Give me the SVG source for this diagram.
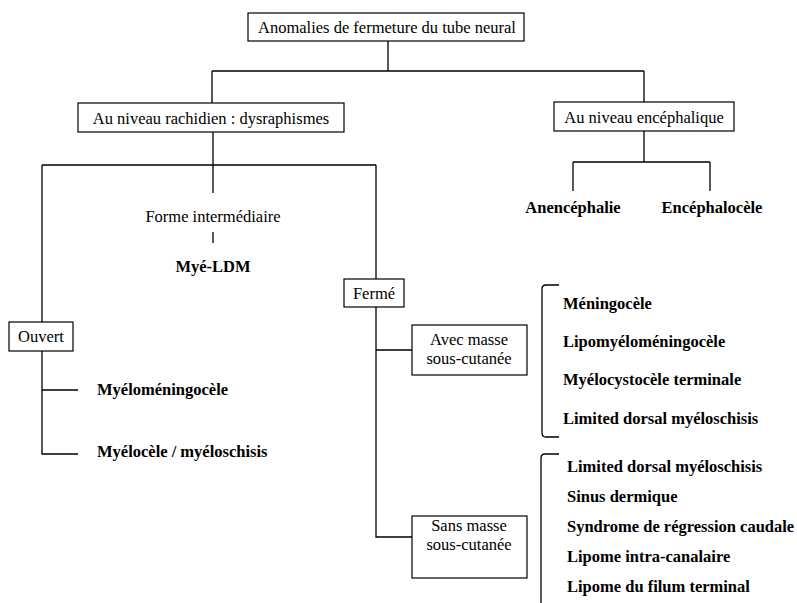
<svg xmlns="http://www.w3.org/2000/svg" width="797" height="603" viewBox="0 0 797 603">
<style>
.box{fill:#fff;stroke:#000;stroke-width:1.2}
.ln{fill:none;stroke:#000;stroke-width:1.3}
text{font-family:"Liberation Serif","Times New Roman",serif;font-size:16.5px;fill:#000}
.b{font-weight:bold}
.c{text-anchor:middle}
</style>
<rect width="797" height="603" fill="#fff"/>
<g id="connectors">
<path class="ln" d="M388 41V71M212 71H644M212 71V103M644 71V102"/>
<path class="ln" d="M213 132V193M42 165H376M42 165V322M376 165V279"/>
<path class="ln" d="M213 232V243"/>
<path class="ln" d="M42 351V454H78M42 390H78"/>
<path class="ln" d="M376 307V537H412M376 350H412"/>
<path class="ln" d="M644 131V162M573 162H710M573 162V191M710 162V191"/>
<path class="ln" d="M559 285H546Q542 285 542 289V433Q542 437 546 437H559"/>
<path class="ln" d="M559 454H545Q541 454 541 458V603"/>
</g>
<g id="n-root"><rect class="box" x="248" y="13" width="276" height="28"/><text class="c" x="387" y="33">Anomalies de fermeture du tube neural</text></g>
<g id="n-rachidien"><rect class="box" x="78" y="103" width="266" height="29"/><text class="c" x="211" y="124">Au niveau rachidien : dysraphismes</text></g>
<g id="n-encephalique"><rect class="box" x="554" y="102" width="180" height="29"/><text class="c" x="644" y="123">Au niveau encéphalique</text></g>
<g id="n-anencephalie"><text class="c b" x="573" y="213">Anencéphalie</text></g>
<g id="n-encephalocele"><text class="c b" x="712" y="213">Encéphalocèle</text></g>
<g id="n-forme"><text class="c" x="213" y="222">Forme intermédiaire</text></g>
<g id="n-myeldm"><text class="c b" x="213" y="272">Myé-LDM</text></g>
<g id="n-ouvert"><rect class="box" x="9" y="322" width="64" height="29"/><text class="c" x="41" y="342">Ouvert</text></g>
<g id="n-mmc"><text class="b" x="97" y="395">Myéloméningocèle</text></g>
<g id="n-myelocele"><text class="b" x="97" y="457">Myélocèle / myéloschisis</text></g>
<g id="n-ferme"><rect class="box" x="344" y="279" width="60" height="28"/><text class="c" x="374" y="299">Fermé</text></g>
<g id="n-avec"><rect class="box" x="412" y="325" width="115" height="50"/><text class="c" x="469" y="345">Avec masse</text><text class="c" x="469" y="364">sous-cutanée</text></g>
<g id="n-sans"><rect class="box" x="412" y="516" width="115" height="62"/><text class="c" x="469" y="531">Sans masse</text><text class="c" x="469" y="550">sous-cutanée</text></g>
<g id="n-avec-list">
<text class="b" x="563" y="308.5">Méningocèle</text>
<text class="b" x="563" y="346.5">Lipomyéloméningocèle</text>
<text class="b" x="563" y="385">Myélocystocèle terminale</text>
<text class="b" x="563" y="423.5">Limited dorsal myéloschisis</text>
</g>
<g id="n-sans-list">
<text class="b" x="567" y="472">Limited dorsal myéloschisis</text>
<text class="b" x="567" y="502">Sinus dermique</text>
<text class="b" x="567" y="532">Syndrome de régression caudale</text>
<text class="b" x="567" y="562">Lipome intra-canalaire</text>
<text class="b" x="567" y="592">Lipome du filum terminal</text>
</g>
</svg>
